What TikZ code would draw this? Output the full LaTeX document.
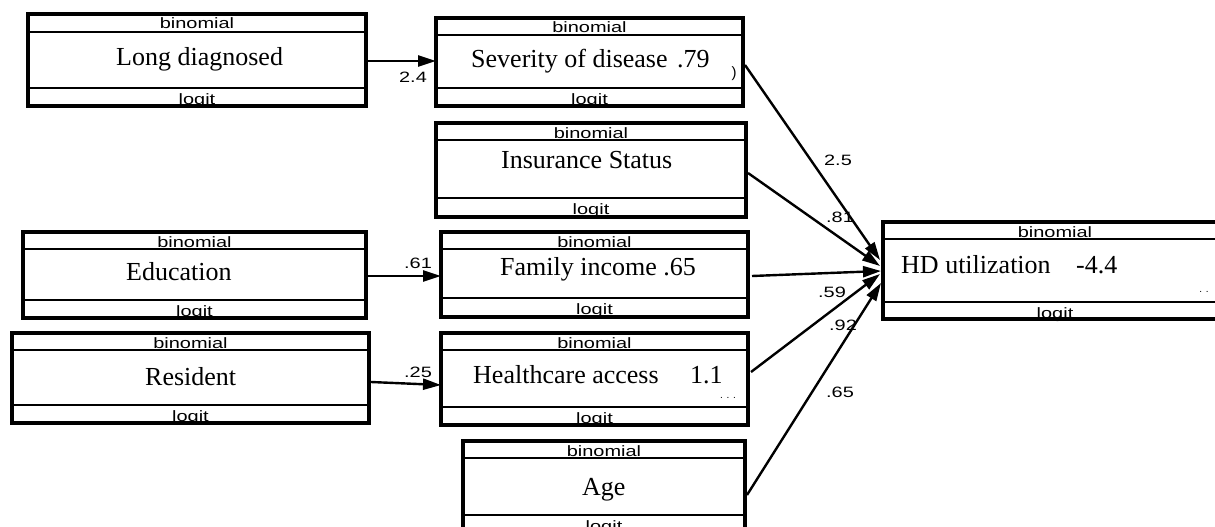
\documentclass[tikz,border=0pt]{standalone}
\usepackage{fontspec}
\usepackage{graphicx}
\setmainfont{Liberation Serif}
\newfontfamily\arialfont{Liberation Sans}
\usetikzlibrary{arrows.meta,calc}
\newcommand{\smtxt}[1]{\scalebox{1.33}[1]{\arialfont\fontsize{15}{15}\selectfont #1}}
\tikzset{
  boxstyle/.style={draw, line width=3.2pt, rectangle, inner sep=0pt, outer sep=0pt},
  divider/.style={line width=2.8pt},
  bandtxt/.style={anchor=base, inner sep=0pt},
  maintxt/.style={anchor=base west, inner sep=0pt, font=\fontsize{26}{26}\selectfont},
  coef/.style={inner sep=0pt},
  arr/.style={line width=2.4pt, -{Triangle[length=18pt,width=11pt]}},
}
% name, x1, y1, x2, y2, d1, d2
\newcommand{\semnode}[7]{%
  \node[boxstyle, minimum width={(#4-#2)*1pt}, minimum height={(#5-#3)*1pt}] (#1) at ({(#2+#4)/2},{(#3+#5)/2}) {};
  \draw[divider] ($(#1.north west)+(0,#6-#3)$) -- ($(#1.north east)+(0,#6-#3)$);
  \draw[divider] ($(#1.north west)+(0,#7-#3)$) -- ($(#1.north east)+(0,#7-#3)$);
  \node[bandtxt] (#1-top) at ({(#2+#4)/2},{#3+15}) {\smtxt{binomial}};
  \node[bandtxt] (#1-bot) at ({(#2+#4)/2},{#7+16}) {\smtxt{logit}};
}
\begin{document}
\begin{tikzpicture}[x=1pt,y=-1pt]
\useasboundingbox (0,0) rectangle (1215,527);
\fill[white] (0,0) rectangle (1215,527);
\clip (0,0) rectangle (1215,527);

\semnode{ld}{28}{14}{366}{106}{32}{88}
\semnode{sev}{436}{18}{743}{106}{35}{88}
\semnode{ins}{436}{123}{746}{217}{140}{198}
\semnode{edu}{23}{232}{366}{318}{249}{300}
\semnode{res}{12}{333}{369}{423}{350}{405}
\semnode{fam}{441}{232}{748}{317}{249}{298}
\semnode{hca}{441}{333}{748}{425}{350}{407}
\semnode{age}{463}{441}{745}{533}{458}{515}
\semnode{hd}{883}{222}{1227}{319}{239}{302}

\node[maintxt] (ldt) at (116,66) {Long diagnosed};
\node[maintxt] (sevt) at (471,67) {Severity of disease};
\node[maintxt] (sevn) at (677,67) {.79};
\node[maintxt] (inst) at (501,168) {Insurance Status};
\node[maintxt] (edut) at (126,280) {Education};
\node[maintxt] (rest) at (145,385) {Resident};
\node[maintxt] (famt) at (500,275) {Family income .65};
\node[maintxt] (hcat) at (473,383) {Healthcare access};
\node[maintxt] (hcan) at (690,383) {1.1};
\node[maintxt] (aget) at (582,495) {Age};
\node[maintxt] (hdt) at (901,273) {HD utilization};
\node[maintxt] (hdn) at (1076,273) {-4.4};

% clipped fragments
\node[inner sep=0pt, font=\arialfont\fontsize{15}{15}\selectfont] (frag1) at (734,74) {)};
\node[inner sep=0pt, font=\arialfont\fontsize{10}{10}\selectfont] (frag2) at (728,398) {. . .};
\node[inner sep=0pt, font=\arialfont\fontsize{10}{10}\selectfont] (frag3) at (1204,292) {. .};

\draw[arr] ($(ld.east)+(2,1)$) -- ($(sev.west)+(0,-1)$);
\draw[arr] ($(edu.east)+(2,1)$) -- ($(fam.west)+(0,1.5)$);
\draw[arr] ($(res.east)+(2,4)$) -- ($(hca.west)+(0,6)$);
\draw[arr] ($(sev.east)+(2,3)$) -- ($(hd.west)+(-3,-10.5)$);
\draw[arr] ($(ins.east)+(2,3)$) -- ($(hd.west)+(-3,-4.5)$);
\draw[arr] ($(fam.east)+(4,1.5)$) -- ($(hd.west)+(-2,0.5)$);
\draw[arr] ($(hca.east)+(3,-7)$) -- ($(hd.west)+(-3,3.5)$);
\draw[arr] ($(age.east)+(2,8)$) -- ($(hd.west)+(-2,12.5)$);

\node[coef] (c1) at (413,77) {\smtxt{2.4}};
\node[coef] (c2) at (418,263) {\smtxt{.61}};
\node[coef] (c3) at (418,372) {\smtxt{.25}};
\node[coef] (c4) at (838,160) {\smtxt{2.5}};
\node[coef] (c5) at (840,217) {\smtxt{.81}};
\node[coef] (c6) at (832,292) {\smtxt{.59}};
\node[coef] (c7) at (843,325) {\smtxt{.92}};
\node[coef] (c8) at (840,392) {\smtxt{.65}};
\end{tikzpicture}
\end{document}
